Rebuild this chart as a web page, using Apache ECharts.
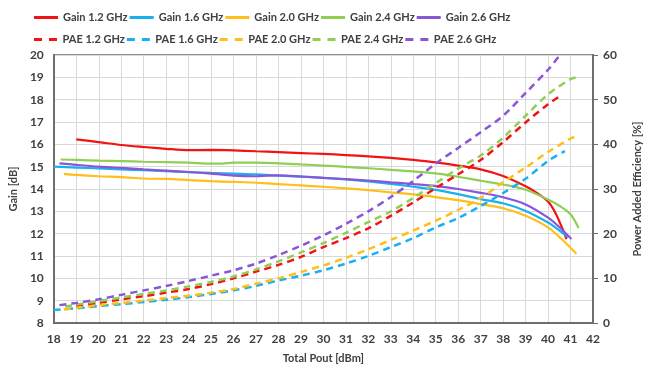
<!DOCTYPE html>
<html><head><meta charset="utf-8">
<script src="https://cdn.jsdelivr.net/npm/echarts@6/dist/echarts.min.js"></script>
<style>html,body{margin:0;padding:0;background:#fff}#c{width:651px;height:369px}</style>
</head><body><div id="c"></div>
<script>
// Gain [dB] vs Total Pout [dBm]
const gain12 = [[19,16.22],[20,16.1],[21,15.97],[22,15.88],[23,15.8],[24,15.74],[25,15.75],[26,15.73],[27,15.69],[28,15.65],[29,15.61],[30,15.57],[31,15.52],[32,15.46],[33,15.39],[34,15.3],[35,15.19],[36,15.05],[37,14.88],[38,14.58],[39,14.12],[39.5,13.83],[40,13.44],[40.3,12.98],[40.6,12.32],[40.82,11.76]];
const gain16 = [[18,15.0],[19,14.96],[20,14.92],[21,14.88],[22,14.84],[23,14.8],[24,14.76],[25,14.72],[26,14.69],[27,14.66],[28,14.6],[29,14.55],[30,14.5],[31,14.43],[32,14.34],[33,14.23],[34,14.1],[35,13.96],[36,13.77],[37,13.55],[38,13.36],[39,13.02],[40,12.5],[40.5,12.15],[40.89,11.84]];
const gain20 = [[18.45,14.68],[19,14.63],[20,14.57],[21,14.53],[22,14.47],[23,14.45],[24,14.4],[25,14.35],[26,14.32],[27,14.28],[28,14.22],[29,14.16],[30,14.1],[31,14.03],[32,13.95],[33,13.85],[34,13.76],[35,13.64],[36,13.5],[37,13.32],[38,13.14],[39,12.8],[40,12.28],[40.6,11.76],[41.26,11.1]];
const gain24 = [[18.3,15.32],[19,15.3],[20,15.27],[21,15.25],[22,15.22],[23,15.2],[24,15.18],[25,15.14],[25.5,15.14],[26,15.18],[27,15.18],[28,15.15],[29,15.1],[30,15.05],[31,14.99],[32,14.93],[33,14.86],[34,14.79],[35,14.7],[36,14.55],[37,14.37],[38,14.2],[39,13.97],[40,13.53],[40.5,13.25],[41,12.87],[41.36,12.25]];
const gain26 = [[18.25,15.15],[19,15.08],[20,15.0],[21,14.95],[22,14.88],[23,14.82],[24,14.76],[25,14.69],[26,14.6],[27,14.57],[27.5,14.6],[28,14.61],[29,14.56],[30,14.5],[31,14.44],[32,14.38],[33,14.3],[34,14.22],[35,14.13],[36,14.0],[37,13.83],[38,13.63],[39,13.31],[40,12.72],[40.5,12.3],[41.04,11.76]];
// PAE [%] vs Total Pout [dBm]
const pae12 = [[19,3.8],[20,4.5],[21,5.3],[22,6.0],[23,6.8],[24,7.6],[25,8.7],[26,10.0],[27,11.5],[28,13.0],[29,14.8],[30,17.0],[31,19.0],[32,21.2],[33,24.0],[34,27.0],[35,30.2],[36,33.3],[37,36.5],[38,40.5],[39,44.9],[40,49.0],[40.53,50.8]];
const pae16 = [[18,2.9],[19,3.3],[20,3.8],[21,4.2],[22,4.7],[23,5.2],[24,5.8],[25,6.5],[26,7.3],[27,8.3],[28,9.5],[29,10.6],[30,11.8],[31,13.3],[32,15.0],[33,17.0],[34,19.0],[35,21.4],[36,23.5],[37,26.2],[38,29.1],[39,32.3],[40,36.3],[40.75,38.5]];
const pae20 = [[18.45,3.0],[19,3.4],[20,4.0],[21,4.5],[22,5.0],[23,5.6],[24,6.1],[25,6.8],[26,7.6],[27,8.8],[28,10.0],[29,11.4],[30,12.9],[31,14.6],[32,16.5],[33,18.6],[34,20.7],[35,22.9],[36,25.3],[37,28.0],[38,31.5],[39,34.8],[40,38.3],[41,41.3],[41.26,41.8]];
const pae24 = [[18.5,3.7],[19,4.1],[20,4.9],[21,5.7],[22,6.5],[23,7.3],[24,8.2],[25,9.2],[26,10.4],[27,12.0],[28,13.8],[29,15.8],[30,17.9],[31,20.2],[32,22.6],[33,25.0],[34,28.0],[35,31.3],[36,34.6],[37,37.5],[38,41.5],[39,46.4],[40,51.2],[41,54.6],[41.33,55.1]];
const pae26 = [[18.25,4.0],[19,4.5],[20,5.3],[21,6.3],[22,7.3],[23,8.3],[24,9.4],[25,10.6],[26,11.8],[27,13.3],[28,15.2],[29,17.3],[30,19.6],[31,22.2],[32,25.0],[33,28.2],[34,31.8],[35,35.7],[36,39.2],[37,42.7],[38,46.4],[39,51.5],[40,56.7],[40.53,60]];

const gainNames = ['Gain 1.2 GHz','Gain 1.6 GHz','Gain 2.0 GHz','Gain 2.4 GHz','Gain 2.6 GHz'];
const paeNames = ['PAE 1.2 GHz','PAE 1.6 GHz','PAE 2.0 GHz','PAE 2.4 GHz','PAE 2.6 GHz'];
const colors = ['#f01414','#1ab0ee','#ffbf1a','#8fcf55','#8a56d8'];
const gainData = [gain12, gain16, gain20, gain24, gain26];
const paeData = [pae12, pae16, pae20, pae24, pae26];

const font = 'Lato, "Open Sans", sans-serif';
const txt = '#404040';
const series = [];
gainNames.forEach((n,i)=>series.push({name:n,type:'line',yAxisIndex:0,data:gainData[i],symbol:'none',smooth:0.3,
  lineStyle:{color:colors[i],width:2.2},itemStyle:{color:colors[i]}}));
paeNames.forEach((n,i)=>series.push({name:n,type:'line',yAxisIndex:1,data:paeData[i],symbol:'none',smooth:0.3,
  lineStyle:{color:colors[i],width:2.5,type:[7,5]},itemStyle:{color:colors[i]}}));

const solidIcon = 'path://M0,0h24v3h-24z';
const dashIcon = 'path://M0,0h8v3h-8z M15,0h8v3h-8z';
const legendBase = {left:29,itemWidth:24,itemHeight:3,itemGap:2,
  textStyle:{fontFamily:font,fontWeight:'bold',fontSize:11,color:txt}};
const chart = echarts.init(document.getElementById('c'),null,{renderer:'canvas'});
chart.setOption({
  animation:false,
  color:colors,
  legend:[Object.assign({},legendBase,{top:7,data:gainNames.map(n=>({name:n,icon:solidIcon}))}),
          Object.assign({},legendBase,{top:29,data:paeNames.map(n=>({name:n,icon:dashIcon}))})],
  grid:{left:53,right:49,top:55,bottom:42,show:true,borderColor:'#6e6e6e',borderWidth:1.5},
  xAxis:{type:'value',min:18,max:42,interval:1,name:'Total Pout [dBm]',nameLocation:'middle',nameGap:30,
    nameTextStyle:{fontFamily:font,fontWeight:'bold',fontSize:11,color:txt},
    axisLine:{lineStyle:{color:'#6e6e6e',width:2}},axisTick:{show:false},
    axisLabel:{fontFamily:font,fontWeight:'bold',fontSize:12,color:txt,margin:10},
    splitLine:{lineStyle:{color:'#d9d9d9',width:1}}},
  yAxis:[
    {type:'value',min:8,max:20,interval:1,name:'Gain [dB]',nameLocation:'middle',nameGap:27,nameRotate:90,
      nameTextStyle:{fontFamily:font,fontWeight:'bold',fontSize:11,color:txt},
      axisLine:{show:true,lineStyle:{color:'#6e6e6e',width:2}},axisTick:{show:false},
      axisLabel:{fontFamily:font,fontWeight:'bold',fontSize:12,color:txt,margin:10},
      splitLine:{lineStyle:{color:'#d9d9d9',width:1}}},
    {type:'value',min:0,max:60,interval:10,name:'Power Added Efficiency [%]',nameLocation:'middle',nameGap:39,nameRotate:90,
      nameTextStyle:{fontFamily:font,fontWeight:'bold',fontSize:11,color:txt},
      axisLine:{show:true,lineStyle:{color:'#6e6e6e',width:2}},axisTick:{show:true,length:5,lineStyle:{color:'#6e6e6e'}},
      axisLabel:{fontFamily:font,fontWeight:'bold',fontSize:12,color:txt,margin:10},
      splitLine:{show:false}}
  ],
  series:series
});
</script></body></html>
